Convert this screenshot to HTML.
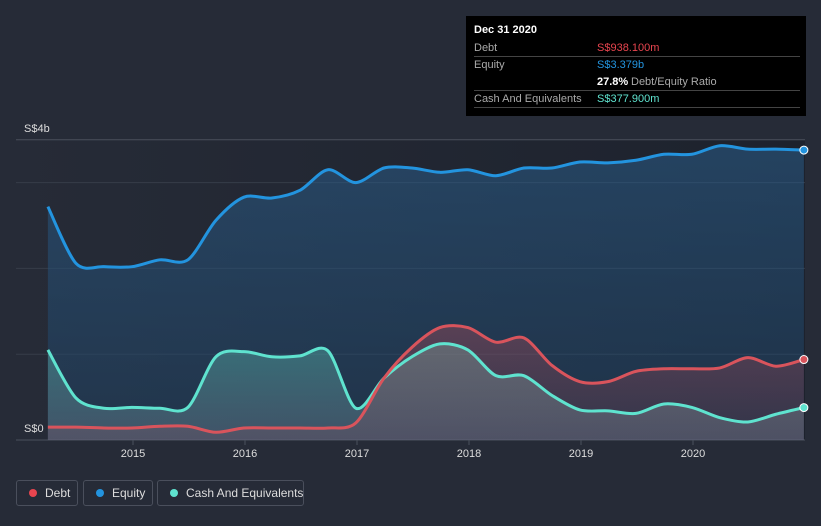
<!DOCTYPE html>
<html><head><meta charset="utf-8"><style>
body{margin:0;background:#262b37;font-family:"Liberation Sans",sans-serif;}
#wrap{position:relative;width:821px;height:526px;overflow:hidden;background:#262b37;}
.tt{position:absolute;left:466px;top:16px;width:340px;height:100px;background:#000;color:#fff;font-size:11px;}
.tt .r{position:absolute;left:8px;width:326px;height:17px;border-bottom:1px solid #444;}
.tt span{position:absolute;top:3px;white-space:nowrap;}
.leg{position:absolute;top:480px;height:26px;border:1px solid #4a4f5c;border-radius:3px;color:#ddd;font-size:12px;line-height:24px;box-sizing:border-box;white-space:nowrap;}
.leg i{display:inline-block;width:8px;height:8px;border-radius:50%;margin:0 8px 0 12px;}
</style></head><body>
<div id="wrap">
<svg id="svg" width="821" height="526" style="position:absolute;left:0;top:0">
<defs>
<linearGradient id="bg" x1="0" y1="0" x2="1" y2="0"><stop offset="0" stop-color="#262b37"/><stop offset="1" stop-color="#1d222d"/></linearGradient>
<linearGradient id="eqf" x1="0" y1="0" x2="0" y2="1"><stop offset="0" stop-color="#2a5d8a" stop-opacity="0.55"/><stop offset="1" stop-color="#1f4060" stop-opacity="0.5"/></linearGradient>
<linearGradient id="caf" x1="0" y1="0" x2="0" y2="1"><stop offset="0" stop-color="#5fd3c0" stop-opacity="0.35"/><stop offset="1" stop-color="#8899aa" stop-opacity="0.3"/></linearGradient>
<linearGradient id="def" x1="0" y1="0" x2="0" y2="1"><stop offset="0" stop-color="#d8505a" stop-opacity="0.3"/><stop offset="1" stop-color="#d8505a" stop-opacity="0.1"/></linearGradient>
</defs>
<rect x="16" y="140" width="789" height="300" fill="url(#bg)"/>
<g id="grid"></g><g id="areas"></g><g id="lines"></g><g id="xt"></g>
<text x="24" y="132" fill="#ddd" font-size="11">S$4b</text>
<text x="24" y="432" fill="#ddd" font-size="11">S$0</text>
</svg>
<div class="tt">
<div style="position:absolute;left:8px;top:8px;font-weight:bold">Dec 31 2020</div>
<div class="r" style="top:23px"><span style="color:#aaa">Debt</span><span style="left:123px;color:#e8454f">S$938.100m</span></div>
<div class="r" style="top:40px;border:none"><span style="color:#aaa">Equity</span><span style="left:123px;color:#2394df">S$3.379b</span></div>
<div class="r" style="top:57px"><span style="left:123px;font-weight:bold">27.8%</span><span style="left:157px;color:#aaa">Debt/Equity Ratio</span></div>
<div class="r" style="top:74px"><span style="color:#aaa">Cash And Equivalents</span><span style="left:123px;color:#5fe3cf">S$377.900m</span></div>
</div>
<div class="leg" style="left:16px;width:62px"><i style="background:#e8454f"></i>Debt</div>
<div class="leg" style="left:83px;width:70px"><i style="background:#2394df"></i>Equity</div>
<div class="leg" style="left:157px;width:147px"><i style="background:#5fe3cf"></i>Cash And Equivalents</div>
</div>
<script>
const years=[2015,2016,2017,2018,2019,2020];
const gridVals=[0,1,2,3,3.5];
const equity=[2.72,2.06,2.02,2.02,2.10,2.10,2.56,2.83,2.82,2.91,3.15,3.00,3.17,3.17,3.12,3.15,3.08,3.17,3.17,3.24,3.23,3.26,3.33,3.33,3.43,3.39,3.39,3.379];
const cash=[1.05,0.49,0.37,0.38,0.37,0.38,0.97,1.03,0.97,0.98,1.04,0.37,0.72,0.97,1.12,1.05,0.75,0.75,0.52,0.35,0.34,0.31,0.42,0.38,0.26,0.21,0.30,0.378];
const debt=[0.15,0.15,0.14,0.14,0.16,0.16,0.09,0.14,0.14,0.14,0.14,0.20,0.72,1.08,1.31,1.31,1.14,1.19,0.87,0.68,0.68,0.80,0.83,0.83,0.84,0.96,0.86,0.938];
const NS="http://www.w3.org/2000/svg";
const xs=t=>133+(t-2015)*112;
const ys=v=>440-v*85.8;
const tAt=i=>2014.24+i*0.25;
function mk(tag,a,parent,name){const e=document.createElementNS(NS,tag);for(const k in a)e.setAttribute(k,a[k]);


document.getElementById(parent).appendChild(e);return e;}
gridVals.forEach(v=>mk('line',{x1:16,x2:805,y1:ys(v),y2:ys(v),stroke:v===3.5||v===0?'#4a505c':'#363c48','stroke-width':1},'grid','gridline'));
years.forEach(y=>{mk('line',{x1:xs(y),x2:xs(y),y1:440,y2:445,stroke:'#4a505c'},'xt','x-tick');
const t=mk('text',{x:xs(y),y:457,fill:'#ddd','font-size':11,'text-anchor':'middle'},'xt','x-tick-label');t.textContent=y;});
function path(d){const p=d.map((v,i)=>[xs(tAt(i)),ys(v)]);let s=`M${p[0][0]},${p[0][1]}`;
for(let i=0;i<p.length-1;i++){const p0=p[Math.max(0,i-1)],p1=p[i],p2=p[i+1],p3=p[Math.min(p.length-1,i+2)];
const k=0.15;s+=` C${p1[0]+(p2[0]-p0[0])*k},${p1[1]+(p2[1]-p0[1])*k} ${p2[0]-(p3[0]-p1[0])*k},${p2[1]-(p3[1]-p1[1])*k} ${p2[0]},${p2[1]}`;}
return {s,p};}
[[equity,'url(#eqf)','equity'],[cash,'url(#caf)','cash'],[debt,'url(#def)','debt']].forEach(([d,f,n])=>{
const {s,p}=path(d);const x0=p[0][0],x1=p[p.length-1][0];
mk('path',{d:s+` L${x1},440 L${x0},440 Z`,fill:f},'areas',n+'-area');});
[[equity,'#2394df','equity'],[cash,'#5fe3cf','cash'],[debt,'#d9545c','debt']].forEach(([d,c,n])=>{
const {s,p}=path(d);mk('path',{d:s,fill:'none',stroke:c,'stroke-width':3},'lines',n+'-line');
const l=p[p.length-1];mk('circle',{cx:l[0],cy:l[1],r:4,fill:c,stroke:'#fff','stroke-width':1},'lines',n+'-end-dot');});
</script>
</body></html>
